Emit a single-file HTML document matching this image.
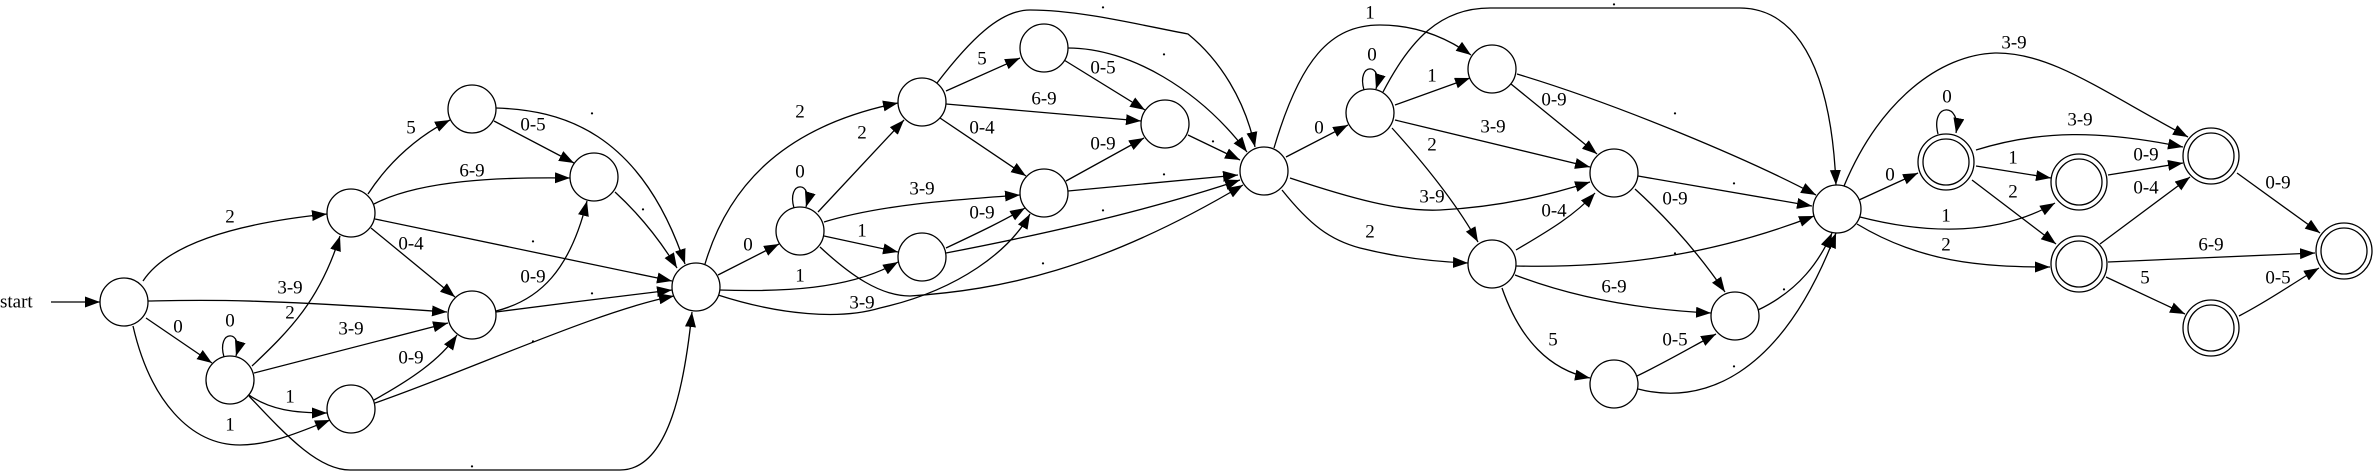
<!DOCTYPE html>
<html><head><meta charset="utf-8"><style>
html,body{margin:0;padding:0;background:#fff;}
svg{display:block;}
text{font-family:"Liberation Serif",serif;font-size:19px;fill:#000;text-anchor:middle;dominant-baseline:central;}
.e{fill:none;stroke:#000;stroke-width:1.3;marker-end:url(#ah);}
.n{fill:#fff;stroke:#000;stroke-width:1.3;}
</style></head><body>
<svg width="2374" height="472" viewBox="0 0 2374 472" xmlns="http://www.w3.org/2000/svg">
<defs><marker id="ah" markerUnits="userSpaceOnUse" markerWidth="16" markerHeight="12" refX="15" refY="5.5" orient="auto"><path d="M0,0 L15,5.5 L0,11 Z" fill="#000"/></marker></defs>

<text x="0" y="302" style="text-anchor:start">start</text>
<path class="e" d="M51,302 L100,302"/>

<!-- Segment A -->
<path class="e" d="M143,281 C170,240 250,222 327,214"/><text x="230" y="217">2</text>
<path class="e" d="M148,301 C200,300 250,298 447,312"/><text x="290" y="288">3-9</text>
<path class="e" d="M146,318 L212,363"/><text x="178" y="327">0</text>
<path class="e" d="M133,326 C150,400 190,445 240,445 C270,445 300,432 330,420"/><text x="230" y="425">1</text>
<path class="e" d="M224,357 C216,329 244,329 236,356"/><text x="230" y="321">0</text>
<path class="e" d="M252,366 C290,330 320,300 340,236"/><text x="290" y="313">2</text>
<path class="e" d="M254,373 L448,323"/><text x="351" y="329">3-9</text>
<path class="e" d="M249,395 C270,410 295,413 327,413"/><text x="290" y="397">1</text>
<path class="e" d="M249,396 C290,440 320,470 350,470 L620,470 C670,470 685,380 692,312"/><text x="472" y="462">.</text>
<path class="e" d="M368,194 C390,160 420,135 450,120"/><text x="411" y="128">5</text>
<path class="e" d="M374,204 C420,180 500,177 570,178"/><text x="472" y="171">6-9</text>
<path class="e" d="M371,228 L455,297"/><text x="411" y="244">0-4</text>
<path class="e" d="M375,219 L672,281"/><text x="533" y="237">.</text>
<path class="e" d="M494,121 L574,163"/><text x="533" y="125">0-5</text>
<path class="e" d="M496,108 C560,110 640,130 685,264"/><text x="592" y="109">.</text>
<path class="e" d="M615,192 C640,215 660,240 677,268"/><text x="643" y="205">.</text>
<path class="e" d="M496,311 C540,300 570,270 587,201"/><text x="533" y="277">0-9</text>
<path class="e" d="M496,312 C550,305 620,296 672,290"/><text x="592" y="289">.</text>
<path class="e" d="M374,400 C410,380 440,360 457,335"/><text x="411" y="358">0-9</text>
<path class="e" d="M375,403 C470,370 600,310 674,296"/><text x="533" y="337">.</text>

<!-- Segment B -->
<path class="e" d="M718,275 L779,244"/><text x="748" y="245">0</text>
<path class="e" d="M705,264 C730,180 790,125 898,103"/><text x="800" y="112">2</text>
<path class="e" d="M719,290 C780,292 850,290 898,262"/><text x="800" y="276">1</text>
<path class="e" d="M718,295 C780,315 840,320 880,308 C960,290 1010,250 1030,214"/><text x="862" y="303">3-9</text>
<path class="e" d="M794,208 C786,180 814,180 806,207"/><text x="800" y="172">0</text>
<path class="e" d="M818,212 L904,120"/><text x="862" y="133">2</text>
<path class="e" d="M824,222 C880,205 950,200 1020,195"/><text x="922" y="189">3-9</text>
<path class="e" d="M824,236 L898,252"/><text x="862" y="231">1</text>
<path class="e" d="M820,247 C850,275 880,296 910,296 C1000,290 1100,270 1243,185"/><text x="1043" y="259">.</text>
<path class="e" d="M946,91 L1020,58"/><text x="982" y="59">5</text>
<path class="e" d="M946,104 L1141,121"/><text x="1044" y="99">6-9</text>
<path class="e" d="M940,118 L1026,176"/><text x="982" y="128">0-4</text>
<path class="e" d="M937,83 C970,40 1000,10 1030,10 C1080,10 1140,25 1188,34 C1220,60 1245,100 1255,147"/><text x="1103" y="3">.</text>
<path class="e" d="M1064,60 L1145,110"/><text x="1103" y="68">0-5</text>
<path class="e" d="M1068,48 C1130,48 1200,90 1247,152"/><text x="1164" y="50">.</text>
<path class="e" d="M1188,135 L1240,160"/><text x="1213" y="137">.</text>
<path class="e" d="M1066,181 L1144,138"/><text x="1103" y="144">0-9</text>
<path class="e" d="M1068,191 L1238,175"/><text x="1164" y="170">.</text>
<path class="e" d="M946,248 C980,232 1005,220 1025,208"/><text x="982" y="213">0-9</text>
<path class="e" d="M946,253 C1040,235 1150,210 1240,180"/><text x="1103" y="206">.</text>

<!-- Segment C -->
<path class="e" d="M1286,157 L1348,125"/><text x="1319" y="128">0</text>
<path class="e" d="M1274,148 C1300,60 1330,25 1380,25 C1420,25 1450,40 1471,55"/><text x="1370" y="13">1</text>
<path class="e" d="M1290,178 C1350,198 1400,212 1440,210 C1500,207 1550,195 1590,182"/><text x="1432" y="197">3-9</text>
<path class="e" d="M1282,190 C1310,225 1330,240 1360,248 C1400,258 1440,262 1468,263"/><text x="1370" y="232">2</text>
<path class="e" d="M1364,90 C1356,62 1384,62 1376,89"/><text x="1372" y="55">0</text>
<path class="e" d="M1395,105 L1470,78"/><text x="1432" y="76">1</text>
<path class="e" d="M1395,120 L1590,167"/><text x="1493" y="127">3-9</text>
<path class="e" d="M1392,128 C1430,170 1460,210 1478,242"/><text x="1432" y="145">2</text>
<path class="e" d="M1383,92 C1410,40 1440,8 1490,8 L1740,8 C1780,8 1830,40 1836,185"/><text x="1614" y="0">.</text>
<path class="e" d="M1511,84 L1597,154"/><text x="1554" y="100">0-9</text>
<path class="e" d="M1517,74 C1620,105 1750,160 1816,195"/><text x="1675" y="109">.</text>
<path class="e" d="M1638,176 L1812,206"/><text x="1734" y="179">.</text>
<path class="e" d="M1635,189 C1680,230 1710,270 1725,292"/><text x="1675" y="199">0-9</text>
<path class="e" d="M1516,250 C1550,230 1575,215 1595,193"/><text x="1554" y="211">0-4</text>
<path class="e" d="M1516,266 C1600,268 1700,260 1814,216"/><text x="1675" y="249">.</text>
<path class="e" d="M1515,275 C1580,300 1650,310 1711,313"/><text x="1614" y="287">6-9</text>
<path class="e" d="M1502,288 C1520,340 1550,370 1590,378"/><text x="1553" y="340">5</text>
<path class="e" d="M1758,310 C1800,290 1820,260 1832,233"/><text x="1784" y="285">.</text>
<path class="e" d="M1637,376 C1670,360 1695,345 1716,334"/><text x="1675" y="340">0-5</text>
<path class="e" d="M1638,389 C1700,405 1780,380 1836,233"/><text x="1734" y="362">.</text>

<!-- Segment D -->
<path class="e" d="M1859,200 L1918,173"/><text x="1890" y="175">0</text>
<path class="e" d="M1844,186 C1880,100 1940,55 1995,53 C2050,52 2100,90 2188,137"/><text x="2014" y="43">3-9</text>
<path class="e" d="M1860,217 C1930,235 2000,235 2055,203"/><text x="1946" y="216">1</text>
<path class="e" d="M1857,224 C1920,262 1980,267 2050,267"/><text x="1946" y="245">2</text>
<path class="e" d="M1938,134 C1930,102 1962,102 1956,133"/><text x="1947" y="97">0</text>
<path class="e" d="M1976,150 C2040,130 2100,130 2183,147"/><text x="2080" y="120">3-9</text>
<path class="e" d="M1976,166 L2051,178"/><text x="2013" y="158">1</text>
<path class="e" d="M1972,180 L2056,244"/><text x="2013" y="192">2</text>
<path class="e" d="M2108,175 L2183,163"/><text x="2146" y="155">0-9</text>
<path class="e" d="M2100,244 L2190,177"/><text x="2146" y="188">0-4</text>
<path class="e" d="M2108,262 L2315,253"/><text x="2211" y="245">6-9</text>
<path class="e" d="M2106,277 L2185,314"/><text x="2145" y="278">5</text>
<path class="e" d="M2237,173 L2320,233"/><text x="2278" y="183">0-9</text>
<path class="e" d="M2239,316 C2270,300 2290,285 2319,268"/><text x="2278" y="278">0-5</text>

<!-- Nodes -->
<g class="n">
<circle cx="124" cy="302" r="24"/>
<circle cx="230" cy="380" r="24"/>
<circle cx="351" cy="213" r="24"/>
<circle cx="472" cy="109" r="24"/>
<circle cx="594" cy="177" r="24"/>
<circle cx="472" cy="315" r="24"/>
<circle cx="351" cy="409" r="24"/>
<circle cx="696" cy="287" r="24"/>
<circle cx="800" cy="231" r="24"/>
<circle cx="922" cy="102" r="24"/>
<circle cx="1044" cy="48" r="24"/>
<circle cx="1165" cy="124" r="24"/>
<circle cx="1044" cy="193" r="24"/>
<circle cx="922" cy="257" r="24"/>
<circle cx="1264" cy="171" r="24"/>
<circle cx="1370" cy="113" r="24"/>
<circle cx="1492" cy="69" r="24"/>
<circle cx="1614" cy="173" r="24"/>
<circle cx="1492" cy="264" r="24"/>
<circle cx="1735" cy="316" r="24"/>
<circle cx="1614" cy="384" r="24"/>
<circle cx="1837" cy="209" r="24"/>
<circle cx="1946" cy="162" r="28"/><circle cx="1946" cy="162" r="23"/>
<circle cx="2079" cy="182" r="28"/><circle cx="2079" cy="182" r="23"/>
<circle cx="2079" cy="264" r="28"/><circle cx="2079" cy="264" r="23"/>
<circle cx="2211" cy="156" r="28"/><circle cx="2211" cy="156" r="23"/>
<circle cx="2211" cy="328" r="28"/><circle cx="2211" cy="328" r="23"/>
<circle cx="2344" cy="251" r="28"/><circle cx="2344" cy="251" r="23"/>
</g>
</svg>
</body></html>
